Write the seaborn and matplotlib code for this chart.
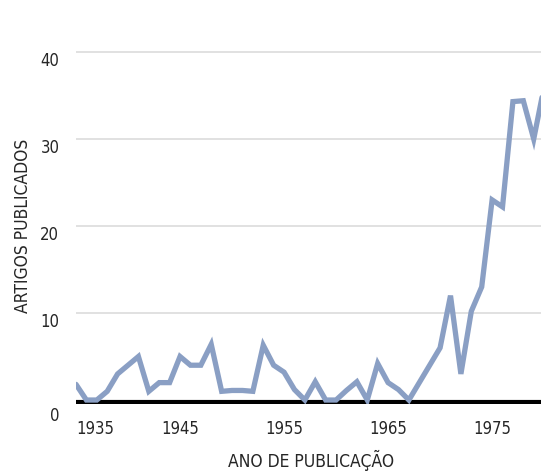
import matplotlib
matplotlib.use("Agg")
import matplotlib.pyplot as plt
import matplotlib.transforms as mtransforms
import seaborn as sns
import pandas as pd

# Dados (artigos publicados por ano)
years = list(range(1935, 1981))
articles = [1.8, 0, 0, 1, 3, 4, 5, 1, 2, 2,
            5, 4, 4, 6.4, 1, 1.1, 1.1, 1, 6.3, 4,
            3.2, 1.2, 0, 2.1, 0, 0, 1.1, 2.1, 0, 4.2,
            2, 1.2, 0, 2, 4, 6, 12, 3, 10.2, 13,
            23, 22.2, 34.3, 34.4, 30, 36]
y_ticks = [0, 10, 20, 30, 40]
x_ticks = [1935, 1945, 1955, 1965, 1975]

df = pd.DataFrame({"ano": years, "artigos": articles})

sns.set_style("white")
plt.rcParams["font.family"] = ["DejaVu Sans"]
plt.rcParams["font.stretch"] = "condensed"

fig = plt.figure(figsize=(5.41, 4.71), dpi=100)
ax = fig.add_axes([76 / 541, 0.1433, 1 - 76 / 541, 0.7703])

# linhas de grade
for t in y_ticks[1:]:
    ax.axhline(t, color="#d8d8d8", lw=1.1, zorder=1)

sns.lineplot(data=df, x="ano", y="artigos", ax=ax, color="#8a9fc4",
             lw=3.8, zorder=3, solid_joinstyle="miter")
ax.axhline(-0.25, color="black", lw=3, zorder=2)

ax.set_xlim(1935, 1979.7)
ax.set_ylim(-0.4, 41.3)
for s in ax.spines.values():
    s.set_visible(False)

ax.set_yticks(y_ticks)
ax.set_yticklabels([str(t) for t in y_ticks], fontsize=12, fontstretch="condensed")
ax.tick_params(axis="y", length=0, pad=12)
off = mtransforms.ScaledTranslation(0, -7 / 100, fig.dpi_scale_trans)
for i, lab in enumerate(ax.get_yticklabels()):
    lab.set_transform(lab.get_transform() + (mtransforms.ScaledTranslation(0, -14 / 100, fig.dpi_scale_trans) if i == 0 else off))

ax.set_xticks(x_ticks)
ax.set_xticklabels([str(t) for t in x_ticks], fontsize=12, fontstretch="condensed")
ax.tick_params(axis="x", length=0, pad=12)
ax.get_xticklabels()[0].set_horizontalalignment("left")

ax.set_xlabel("ANO DE PUBLICAÇÃO", fontsize=12.5, fontstretch="condensed")
ax.set_ylabel("ARTIGOS PUBLICADOS", fontsize=12.5, fontstretch="condensed")
ax.xaxis.set_label_coords(0.505, -0.128)
ax.yaxis.set_label_coords(-0.095, 0.49)

fig.savefig("out.png", dpi=100)
